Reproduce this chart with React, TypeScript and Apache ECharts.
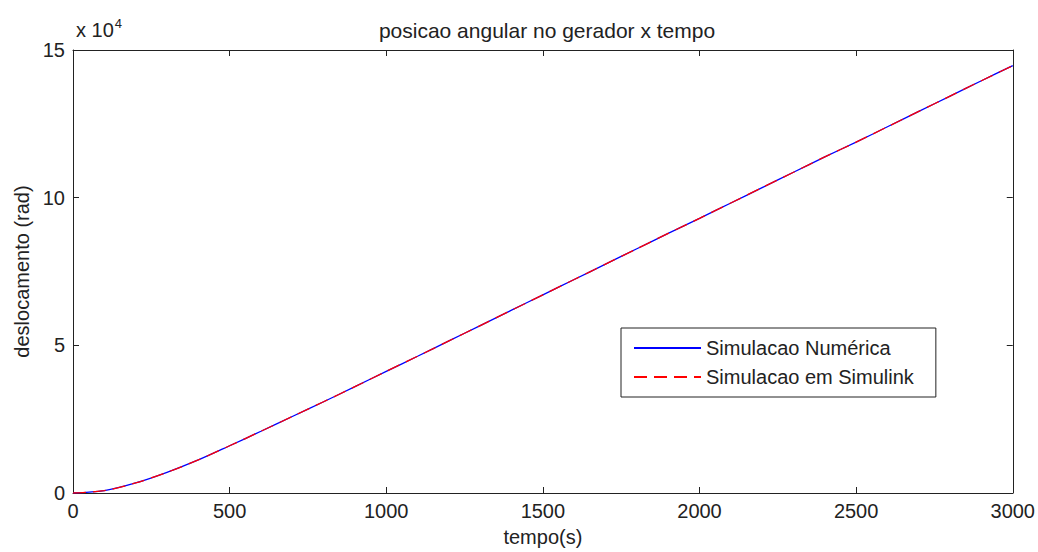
import React, { useEffect, useRef } from "react";
import * as echarts from "echarts";

const tempo = [0, 100, 200, 300, 400, 500, 600, 700, 800, 900, 1000, 1100, 1200, 1300, 1400, 1500, 1600, 1700, 1800, 1900, 2000, 2100, 2200, 2300, 2400, 2500, 2600, 2700, 2800, 2900, 3000];
const numerica = [0, 0.08, 0.34, 0.7, 1.12, 1.6, 2.09, 2.59, 3.09, 3.6, 4.12, 4.63, 5.15, 5.67, 6.19, 6.71, 7.23, 7.75, 8.27, 8.79, 9.3, 9.82, 10.34, 10.86, 11.38, 11.88, 12.4, 12.92, 13.44, 13.96, 14.47];
const simulink = [0, 0.08, 0.34, 0.7, 1.12, 1.6, 2.09, 2.59, 3.09, 3.6, 4.12, 4.63, 5.15, 5.67, 6.19, 6.71, 7.23, 7.75, 8.27, 8.79, 9.3, 9.82, 10.34, 10.86, 11.38, 11.88, 12.4, 12.92, 13.44, 13.96, 14.47];
const seriesNames = ["Simulacao Numérica", "Simulacao em Simulink"];
const title = "posicao angular no gerador x tempo";

const FONT = "Liberation Sans, Arial, sans-serif";
const FS = 20;

export default function App() {
  const ref = useRef<HTMLDivElement>(null);
  useEffect(() => {
    const chart = echarts.init(ref.current!, null, { renderer: "svg" });
    const axisCommon = {
      axisLine: { show: true, onZero: false, lineStyle: { color: "#222", width: 1 } },
      axisTick: { show: true, inside: true, length: 6, lineStyle: { color: "#222" } },
      splitLine: { show: false },
    };
    chart.setOption({
      animation: false,
      backgroundColor: "#fff",
      title: {
        text: title,
        left: 542,
        top: 15,
        textAlign: "center",
        textStyle: { fontFamily: FONT, fontSize: 21, fontWeight: "normal", color: "#222" },
      },
      grid: { left: 73, top: 50, right: 23, bottom: 58, containLabel: false },
      legend: {
        left: 621,
        top: 328,
        orient: "vertical",
        backgroundColor: "#fff",
        borderColor: "#222",
        borderWidth: 1,
        padding: [10, 22, 10, 12],
        itemWidth: 67,
        itemHeight: 14,
        itemGap: 9,
        itemStyle: { opacity: 0 },
        textStyle: { fontFamily: FONT, fontSize: FS, color: "#222" },
        data: seriesNames,
      },
      xAxis: [
        {
          type: "value",
          min: 0,
          max: 3000,
          interval: 500,
          position: "bottom",
          name: "tempo(s)",
          nameLocation: "middle",
          nameGap: 34,
          nameTextStyle: { fontFamily: FONT, fontSize: FS, color: "#222" },
          axisLabel: { fontFamily: FONT, fontSize: FS, color: "#222", margin: 8, formatter: (v: number) => String(v) },
          ...axisCommon,
        },
        {
          type: "value",
          min: 0,
          max: 3000,
          interval: 500,
          position: "top",
          axisLabel: { show: false },
          ...axisCommon,
        },
      ],
      yAxis: [
        {
          type: "value",
          min: 0,
          max: 15,
          interval: 5,
          position: "left",
          name: "deslocamento (rad)",
          nameLocation: "middle",
          nameGap: 41,
          nameRotate: 90,
          nameTextStyle: { fontFamily: FONT, fontSize: FS, color: "#222" },
          axisLabel: { fontFamily: FONT, fontSize: FS, color: "#222", margin: 8 },
          ...axisCommon,
        },
        {
          type: "value",
          min: 0,
          max: 15,
          interval: 5,
          position: "right",
          axisLabel: { show: false },
          ...axisCommon,
        },
      ],
      graphic: [
        {
          type: "text",
          left: 76,
          top: 17,
          style: {
            text: "x 10{sup|4}",
            fontFamily: FONT,
            fontSize: FS,
            fill: "#222",
            rich: { sup: { fontSize: 13, verticalAlign: "top", padding: [0, 0, 12, 1], fontFamily: FONT, fill: "#222" } },
          },
        },
      ],
      series: [
        {
          name: seriesNames[0],
          type: "line",
          data: tempo.map((t, i) => [t, numerica[i]]),
          showSymbol: false,
          symbol: "none",
          smooth: 0.3,
          lineStyle: { color: "#0000ff", width: 1.3 },
          itemStyle: { color: "#0000ff" },
        },
        {
          name: seriesNames[1],
          type: "line",
          data: tempo.map((t, i) => [t, simulink[i]]),
          showSymbol: false,
          symbol: "none",
          smooth: 0.3,
          lineStyle: { color: "#ff0000", width: 1.3, type: [13, 7] },
          itemStyle: { color: "#ff0000" },
        },
      ],
    });
    return () => chart.dispose();
  }, []);
  return <div ref={ref} style={{ position: "absolute", left: 0, top: 0, width: 1038, height: 552 }} />;
}
